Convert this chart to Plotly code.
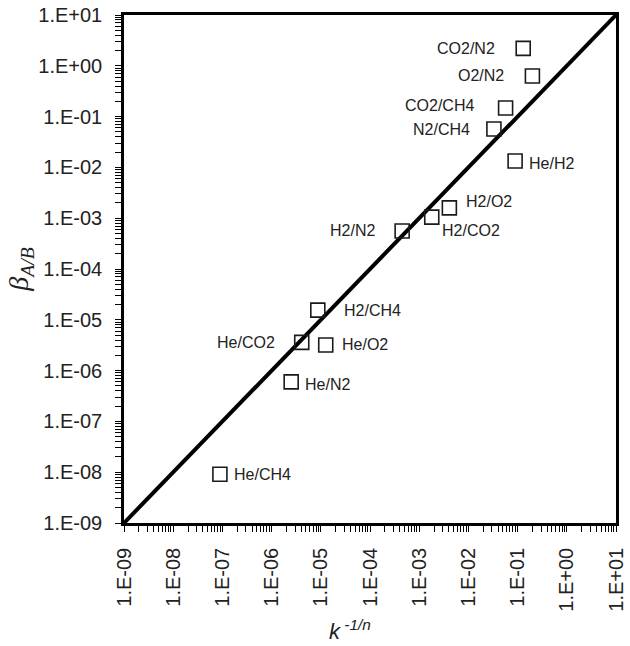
import math
import plotly.graph_objects as go

pairs = ["CO2/N2", "O2/N2", "CO2/CH4", "N2/CH4", "He/H2", "H2/O2", "H2/CO2",
         "H2/N2", "H2/CH4", "He/CO2", "He/O2", "He/N2", "He/CH4"]
k_inv = [0.13, 0.20, 0.057, 0.033, 0.089, 0.0041, 0.0018,
         4.5e-4, 8.7e-6, 4.1e-6, 1.26e-5, 2.5e-6, 8.9e-8]
beta = [2.2, 0.63, 0.148, 0.057, 0.0134, 0.0016, 0.00105,
        5.6e-4, 1.55e-5, 3.6e-6, 3.2e-6, 6.0e-7, 9.1e-9]
parity = [1e-9, 1e1]
tick_vals = [10.0 ** e for e in range(-9, 2)]
tick_text = ["1.E-09", "1.E-08", "1.E-07", "1.E-06", "1.E-05", "1.E-04",
             "1.E-03", "1.E-02", "1.E-01", "1.E+00", "1.E+01"]
minor_vals = [m * 10.0 ** e for e in range(-9, 1) for m in range(2, 10)]

# label placement (style)
lab_anchor = ["right", "right", "right", "right", "left", "left", "left",
              "right", "left", "right", "left", "left", "left"]
lab_dx = [-26, -26, -30, -22, 12, 15, 8, -25, 24, -25, 14, 12, 12]
lab_dy = [0, 0, 2, 0, -3, 6, -13, 0, 0, 0, 0, -3, 0]

all_vals = tick_vals + minor_vals
all_text = tick_text + [""] * len(minor_vals)

fig = go.Figure()
fig.add_trace(go.Scatter(x=parity, y=parity, mode="lines",
                         line=dict(color="black", width=4), showlegend=False,
                         hoverinfo="skip"))
fig.add_trace(go.Scatter(x=k_inv, y=beta, mode="markers",
                         marker=dict(symbol="square-open", size=14,
                                     color="#1a1a1a", line=dict(width=1.6, color="#1a1a1a")),
                         text=pairs, showlegend=False))

for p, xv, yv, a, dx, dy in zip(pairs, k_inv, beta, lab_anchor, lab_dx, lab_dy):
    fig.add_annotation(x=math.log10(xv), y=math.log10(yv), xref="x", yref="y", text=p,
                       showarrow=False, xanchor=a, yanchor="middle", xshift=dx, yshift=dy,
                       font=dict(family="Liberation Sans, Arial", size=16, color="#222"))

# x-axis title placed like the reference (slightly left of centre)
fig.add_annotation(xref="paper", yref="paper", x=0.46, y=-0.21, showarrow=False,
                   xanchor="center", yanchor="middle",
                   text="<i>k</i><sup><i> -1/n</i></sup>",
                   font=dict(family="Liberation Sans, Arial", size=22, color="#222"))

axis_common = dict(
    type="log", range=[-9, 1], autorange=False, showgrid=False, zeroline=False,
    showline=True, linecolor="black", linewidth=2.5, mirror=True,
    ticks="outside", tickcolor="black", tickwidth=1.2, ticklen=6,
    tickmode="array", tickvals=all_vals, ticktext=all_text,
    tickfont=dict(family="Liberation Sans, Arial", size=20, color="#222"),
    automargin=False,
)

fig.update_layout(
    xaxis=dict(**axis_common, tickangle=-90, ticklabelstandoff=8),
    yaxis=dict(**axis_common, ticklabelstandoff=9,
               title=dict(text="<i>β<sub>A/B</sub></i>",
                          font=dict(family="Liberation Serif, Times New Roman", size=28, color="#222"),
                          standoff=2)),
    width=630, height=646, margin=dict(l=124, r=14, t=15, b=123),
    plot_bgcolor="white", paper_bgcolor="white",
)

fig.write_html("out.html")
